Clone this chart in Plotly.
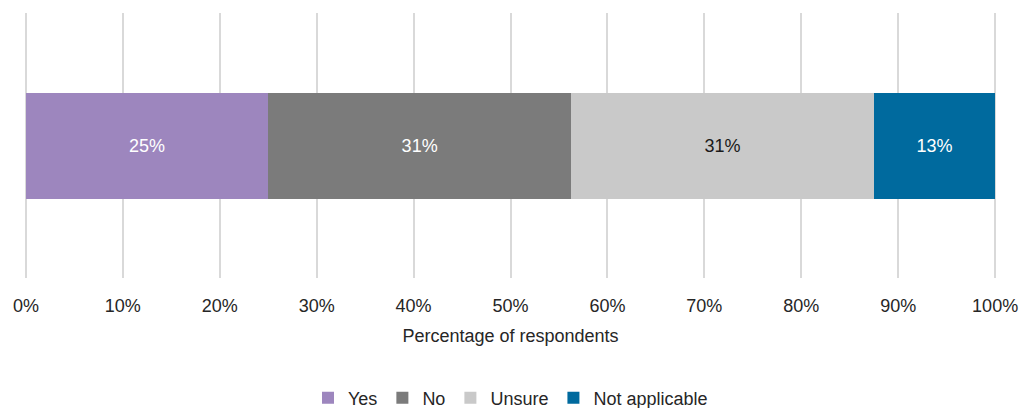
import plotly.graph_objects as go

# Survey response shares (percent of respondents)
responses = ["Yes", "No", "Unsure", "Not applicable"]
shares = [25.0, 31.25, 31.25, 12.5]
colors = ["#9D86BE", "#7B7B7B", "#C9C9C9", "#006A9E"]
label_colors = ["#FFFFFF", "#FFFFFF", "#1A1A1A", "#FFFFFF"]
tick_values = [0, 10, 20, 30, 40, 50, 60, 70, 80, 90, 100]
tick_labels = [f"{v}%" for v in tick_values]

FONT = "Liberation Sans Narrow, Arial Narrow, Liberation Sans, Arial, sans-serif"
FS = 18

fig = go.Figure()
for name, val, col, tcol in zip(responses, shares, colors, label_colors):
    fig.add_trace(go.Bar(
        y=[""], x=[val], name=name, orientation="h",
        marker=dict(color=col, line=dict(width=0)),
        text=[val], texttemplate="%{x:.0f}%", textposition="inside",
        insidetextanchor="middle",
        textfont=dict(family=FONT, size=FS, color=tcol),
        hoverinfo="skip",
    ))

fig.update_layout(
    barmode="stack",
    bargap=0.6,
    width=1030, height=408,
    margin=dict(l=22, r=31, t=13, b=130, autoexpand=False),
    paper_bgcolor="white", plot_bgcolor="white",
    font=dict(family=FONT, size=FS, color="#262626"),
    showlegend=True,
    legend=dict(
        orientation="h", x=0.5, xanchor="center", y=-0.453, yanchor="middle",
        font=dict(family=FONT, size=FS, color="#262626"),
        itemwidth=30, traceorder="normal",
    ),
    uniformtext=dict(mode="show", minsize=10),
)
# padding on both ends keeps the 0% and 100% gridlines inside the plot area
fig.update_xaxes(
    range=[-0.4, 100.4], tickvals=tick_values, ticktext=tick_labels,
    showgrid=True, gridcolor="#D9D9D9", gridwidth=2,
    zeroline=False, showline=False,
    ticks="outside", ticklen=11, tickcolor="rgba(0,0,0,0)",
    tickfont=dict(family=FONT, size=FS, color="#262626"),
    title=dict(text="Percentage of respondents", standoff=14,
               font=dict(family=FONT, size=FS, color="#262626")),
)
fig.update_yaxes(showticklabels=False, showgrid=False, zeroline=False, showline=False)

fig.write_html("out.html")
